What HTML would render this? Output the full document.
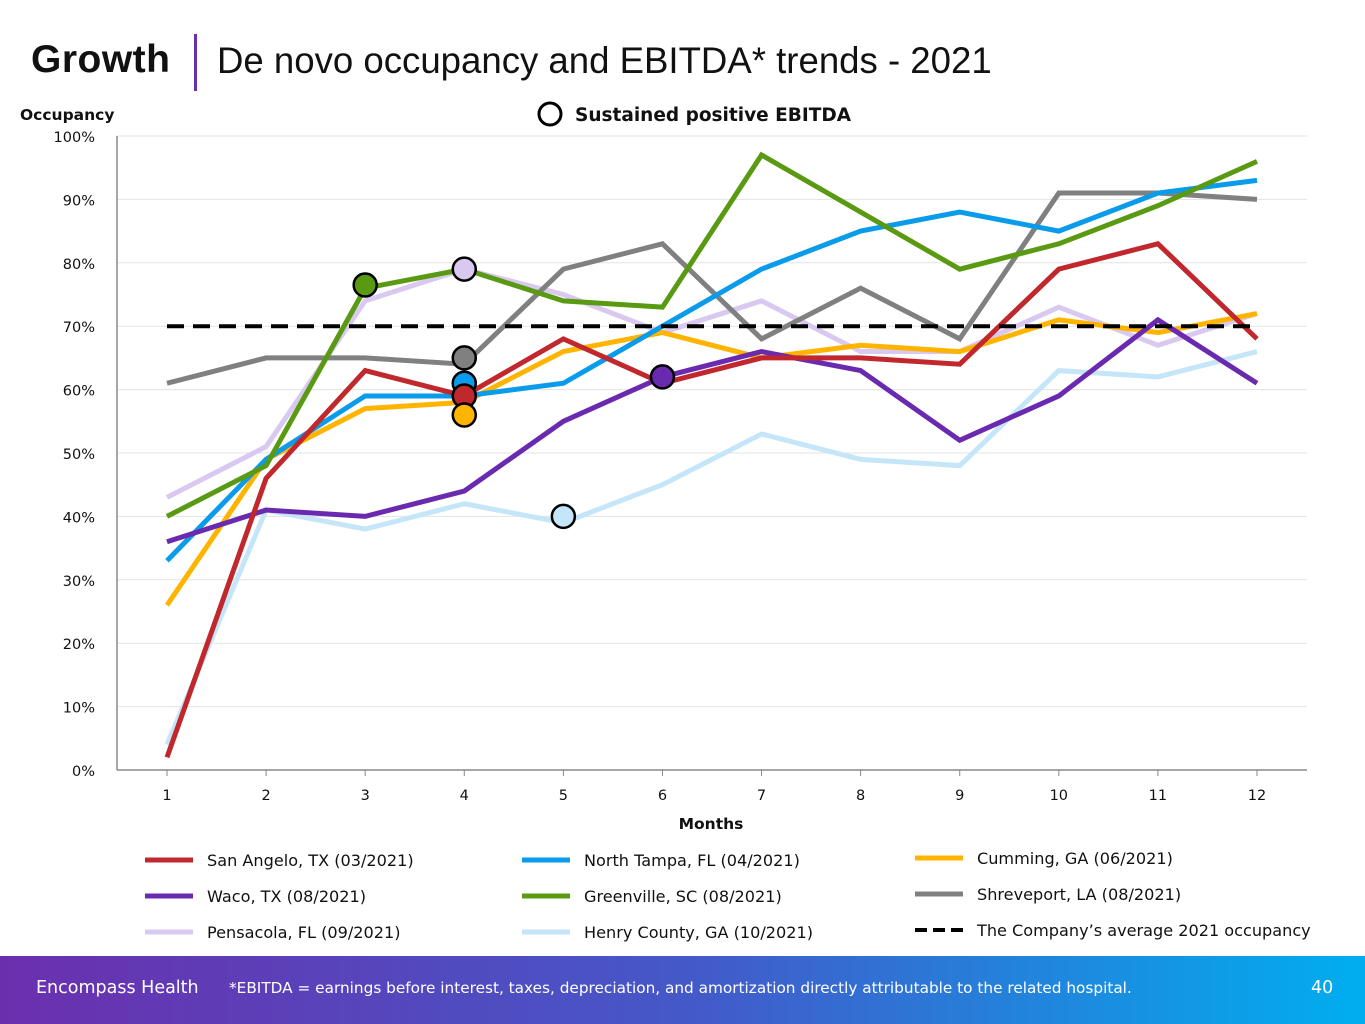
<!DOCTYPE html>
<html><head><meta charset="utf-8">
<style>
body{margin:0;width:1365px;height:1024px;overflow:hidden;background:#fff;font-family:"DejaVu Sans","Liberation Sans",sans-serif;position:relative}
.t{position:absolute;white-space:nowrap}
</style></head><body>
<div class="t" style="left:31px;top:38px;font-size:39px;font-weight:bold;color:#111;font-family:'Liberation Sans',sans-serif;letter-spacing:0.5px">Growth</div>
<div style="position:absolute;left:194px;top:34px;width:3px;height:57px;background:#6B2FAE"></div>
<div class="t" style="left:217px;top:40px;font-size:36.6px;color:#111;font-family:'Liberation Sans',sans-serif">De novo occupancy and EBITDA* trends - 2021</div>
<svg id="chart" width="1365" height="956" style="position:absolute;left:0;top:0" font-family="DejaVu Sans, Liberation Sans, sans-serif"></svg>
<div style="position:absolute;left:0;top:956px;width:1365px;height:68px;background:linear-gradient(90deg,#6B2FAE 0%,#4558C8 50%,#00AEEF 100%)"></div>
<div class="t" style="left:36px;top:978px;font-size:17.5px;color:#fff">Encompass Health</div>
<div class="t" style="left:229px;top:979px;font-size:15.3px;color:#fff">*EBITDA = earnings before interest, taxes, depreciation, and amortization directly attributable to the related hospital.</div>
<div class="t" style="left:1311px;top:978px;font-size:17.5px;color:#fff">40</div>
<script>
const months=[1,2,3,4,5,6,7,8,9,10,11,12];
const yTicks=[0,10,20,30,40,50,60,70,80,90,100];
const avgOccupancy=70;
const seriesNames=["Henry County, GA (10/2021)","Pensacola, FL (09/2021)","Shreveport, LA (08/2021)","Cumming, GA (06/2021)","North Tampa, FL (04/2021)","Waco, TX (08/2021)","San Angelo, TX (03/2021)","Greenville, SC (08/2021)"];
const seriesColors=["#C5E5F8","#D9C8F0","#808080","#FFB400","#0A9BEA","#6A2AB0","#C0282D","#5A9A13"];
const henry=[4,41,38,42,39,45,53,49,48,63,62,66];
const pensacola=[43,51,74,79,75,69,74,66,66,73,67,72];
const shreveport=[61,65,65,64,79,83,68,76,68,91,91,90];
const cumming=[26,49,57,58,66,69,65,67,66,71,69,72];
const northTampa=[33,49,59,59,61,70,79,85,88,85,91,93];
const waco=[36,41,40,44,55,62,66,63,52,59,71,61];
const sanAngelo=[2,46,63,59,68,61,65,65,64,79,83,68];
const greenville=[40,48,76,79,74,73,97,88,79,83,89,96];
const seriesValues=[henry,pensacola,shreveport,cumming,northTampa,waco,sanAngelo,greenville];
// EBITDA markers: series index, month, value
const markerSeries=[7,4,6,2,1,3,0,5];
const markerMonth=[3,4,4,4,4,4,5,6];
const markerValue=[76.5,61,59,65,79,56,40,62];

const NS="http://www.w3.org/2000/svg";
const svg=document.getElementById('chart');
const X0=117,X1=1307,Y0=770,Y100=136;
const xs=m=>167+(m-1)*(1257-167)/11;
const ys=v=>Y0-(v/100)*(Y0-Y100);
function mk(tag,attrs,name,inter){const e=document.createElementNS(NS,tag);for(const k in attrs)e.setAttribute(k,attrs[k]);


svg.appendChild(e);return e;}
yTicks.forEach(v=>{
  if(v>0){mk('line',{x1:X0,x2:X1,y1:ys(v),y2:ys(v),stroke:'#e3e3e3','stroke-width':1},'gridline-'+v,false);}
  const t=mk('text',{x:95,y:ys(v)+6,'text-anchor':'end','font-size':14.5,fill:'#111'},'y-tick-'+v,false);t.textContent=v+'%';
});
mk('line',{x1:X0,x2:X0,y1:Y100,y2:Y0,stroke:'#888','stroke-width':1.5},'y-axis',false);
mk('line',{x1:X0,x2:X1,y1:Y0,y2:Y0,stroke:'#888','stroke-width':1.5},'x-axis',false);
months.forEach(m=>{
  mk('line',{x1:xs(m),x2:xs(m),y1:Y0,y2:Y0+6,stroke:'#888'},'x-tick-mark-'+m,false);
  const t=mk('text',{x:xs(m),y:800,'text-anchor':'middle','font-size':14.5,fill:'#111'},'x-tick-'+m,false);t.textContent=m;
});
let t=mk('text',{x:711,y:829,'text-anchor':'middle','font-size':15.5,'font-weight':'bold',fill:'#111'},'x-axis-title',false);t.textContent='Months';
t=mk('text',{x:20,y:120,'font-size':15.5,'font-weight':'bold',fill:'#111'},'y-axis-title',false);t.textContent='Occupancy';
mk('circle',{cx:550,cy:114,r:11,fill:'#fff',stroke:'#000','stroke-width':3},'ebitda-legend-marker',false);
t=mk('text',{x:575,y:121,'font-size':18.5,'font-weight':'bold',fill:'#111'},'ebitda-legend-label',false);t.textContent='Sustained positive EBITDA';
seriesValues.forEach((vals,i)=>{
  const d=vals.map((v,j)=>(j?'L':'M')+xs(months[j])+','+ys(v)).join(' ');
  mk('path',{d:d,fill:'none',stroke:seriesColors[i],'stroke-width':5,'stroke-linejoin':'miter'},'series-line-'+seriesNames[i].split(',')[0].toLowerCase().replace(/ /g,'-'),false);
});
mk('line',{x1:xs(1),x2:xs(12),y1:ys(avgOccupancy),y2:ys(avgOccupancy),stroke:'#000','stroke-width':4,'stroke-dasharray':'17,9'},'average-occupancy-line',false);
markerSeries.forEach((s,i)=>{
  mk('circle',{cx:xs(markerMonth[i]),cy:ys(markerValue[i]),r:11.5,fill:seriesColors[s],stroke:'#000','stroke-width':2.5},'ebitda-marker-'+i,false);
});
// legend
const legendOrder=[6,4,3,5,7,2,1,0];
const lx=[145,522,915],ly=[860,896,932],ly3=[858,894,930];
legendOrder.forEach((s,k)=>{
  const col=k%3,row=Math.floor(k/3);const yy=col==2?ly3[row]:ly[row];
  mk('line',{x1:lx[col],x2:lx[col]+48,y1:yy,y2:yy,stroke:seriesColors[s],'stroke-width':5},'legend-swatch-'+k,false);
  const tt=mk('text',{x:lx[col]+62,y:yy+6,'font-size':16.1,fill:'#111'},'legend-label-'+k,false);tt.textContent=seriesNames[s];
});
mk('line',{x1:915,x2:963,y1:930,y2:930,stroke:'#000','stroke-width':4,'stroke-dasharray':'12,6'},'legend-swatch-average',false);
t=mk('text',{x:977,y:936,'font-size':16.1,fill:'#111'},'legend-label-average',false);t.textContent='The Company’s average 2021 occupancy';
</script>
</body></html>
